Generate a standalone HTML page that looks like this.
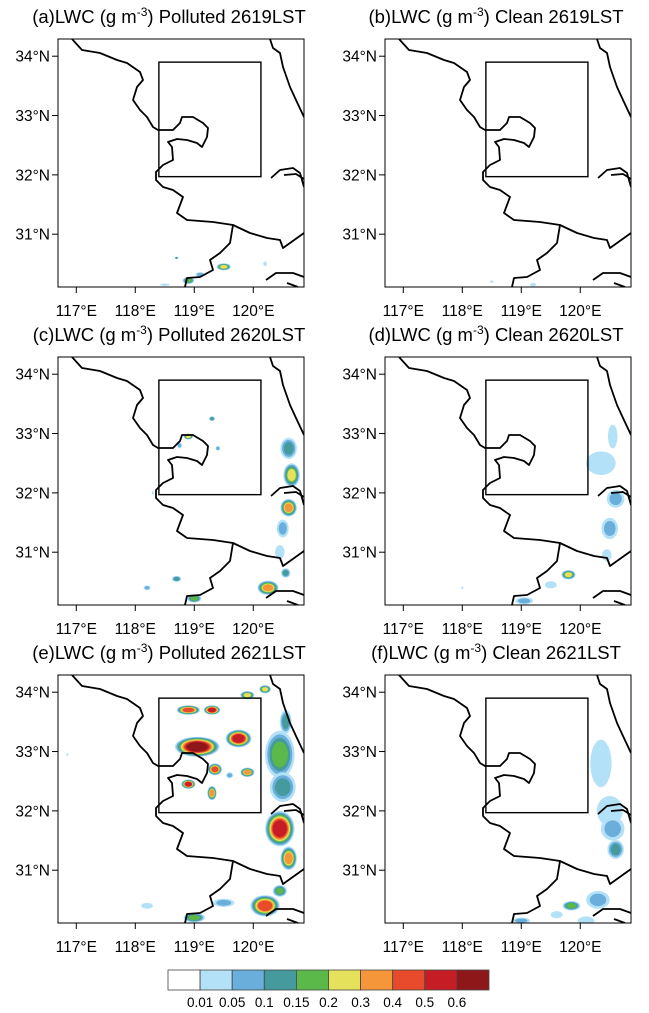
<!DOCTYPE html>
<html><head><meta charset="utf-8">
<style>
html,body{margin:0;padding:0;background:#fff;}
svg{display:block;font-family:"Liberation Sans",sans-serif;}
</style></head>
<body>
<svg id="fig" width="649" height="1013" viewBox="0 0 649 1013" xmlns="http://www.w3.org/2000/svg"></svg>
<script>
// ---- data ----
const levels = [0.01,0.05,0.1,0.15,0.2,0.3,0.4,0.5,0.6];
const colors = ["#ffffff","#b3e1f7","#6aaedb","#449a9c","#5bb94a","#e6e15a","#f6963a","#e74b2b","#c51c26","#8e1719"];
const titles = ["(a)LWC (g m","(b)LWC (g m","(c)LWC (g m","(d)LWC (g m","(e)LWC (g m","(f)LWC (g m"];
const titleTails = [") Polluted 2619LST",") Clean 2619LST",") Polluted 2620LST",") Clean 2620LST",") Polluted 2621LST",") Clean 2621LST"];
const lonTicks = [117,118,119,120];
const latTicks = [34,33,32,31];
const lonTickLabels = ["117°E","118°E","119°E","120°E"];
const latTickLabels = ["34°N","33°N","32°N","31°N"];
// blobs: [lon, lat, radius-lon, radius-lat, max colour index]
const blobsA = [[119.5,30.45,0.12,0.06,5],[118.9,30.22,0.1,0.06,4],[119.1,30.32,0.08,0.04,2],[118.7,30.6,0.03,0.02,3],[118.5,30.15,0.08,0.02,1],[120.2,30.5,0.03,0.04,1]];
const blobsB = [[119.2,30.15,0.05,0.03,1],[118.5,30.2,0.03,0.02,1]];
const blobsC = [[119.3,33.25,0.05,0.04,3],[118.9,32.95,0.08,0.05,5],[118.75,32.8,0.04,0.05,2],[119.4,32.75,0.04,0.04,2],[118.3,32.0,0.02,0.03,1],
 [120.6,32.75,0.14,0.18,3],[120.65,32.3,0.14,0.2,5],[120.6,31.75,0.14,0.15,6],[120.5,31.4,0.1,0.15,2],[120.45,31.0,0.08,0.12,1],
 [118.2,30.4,0.06,0.04,2],[118.7,30.55,0.08,0.05,3],[119.0,30.22,0.12,0.07,4],[120.25,30.4,0.18,0.12,6],[120.55,30.65,0.08,0.08,3]];
const blobsD = [[120.35,32.5,0.25,0.2,1],[120.55,32.95,0.08,0.2,1],[120.6,31.9,0.15,0.15,2],[120.5,31.4,0.14,0.18,2],[120.45,30.95,0.08,0.1,1],
 [119.8,30.62,0.12,0.08,5],[119.5,30.45,0.1,0.06,1],[119.05,30.18,0.15,0.06,2],[118.0,30.4,0.02,0.02,1]];
const blobsE = [[118.9,33.7,0.2,0.08,7],[119.3,33.7,0.14,0.08,8],[119.9,33.95,0.12,0.07,5],[120.2,34.05,0.1,0.07,5],
 [119.05,33.08,0.38,0.17,9],[119.75,33.22,0.22,0.15,8],[119.35,32.7,0.12,0.1,7],[118.9,32.45,0.12,0.08,8],[119.3,32.3,0.08,0.12,6],
 [119.9,32.65,0.12,0.08,6],[119.6,32.6,0.06,0.05,2],[120.45,32.95,0.25,0.4,4],[120.5,32.4,0.22,0.25,3],[120.55,33.5,0.1,0.2,3],
 [120.45,31.7,0.25,0.3,8],[120.6,31.2,0.14,0.2,6],[120.2,30.4,0.25,0.18,7],[120.45,30.65,0.12,0.1,4],
 [119.0,30.2,0.18,0.08,4],[119.5,30.45,0.18,0.07,2],[118.2,30.4,0.1,0.05,1],[116.85,32.95,0.02,0.02,1]];
const blobsF = [[120.35,32.8,0.18,0.4,1],[120.5,32.0,0.22,0.25,1],[120.55,31.7,0.2,0.2,2],[120.6,31.35,0.14,0.16,3],
 [120.3,30.5,0.2,0.15,2],[119.85,30.4,0.15,0.08,4],[119.6,30.25,0.1,0.06,1],[119.0,30.15,0.15,0.05,2],[120.1,30.15,0.14,0.07,1]];
const panelBlobs = [blobsA,blobsB,blobsC,blobsD,blobsE,blobsF];

// ---- geometry ----
const NS="http://www.w3.org/2000/svg";
const svg=document.getElementById('fig');
const PW=246, PH=248, LON0=116.69, LON1=120.86, LAT0=30.11, LAT1=34.29;
const panelX=[58,385], panelY=[39,357,675];
function xs(lon){return (lon-LON0)/(LON1-LON0)*PW;}
function ys(lat){return (LAT1-lat)/(LAT1-LAT0)*PH;}
function mk(tag,attrs,parent){const e=document.createElementNS(NS,tag);for(const k in attrs)e.setAttribute(k,attrs[k]);(parent||svg).appendChild(e);return e;}

const borderMain="M14,0 L24,11 L42,14 L59,21 L69,24 L82,33 L85,41 L79,48 L75,61 L82,71 L89,78 L95,88 L100,91 L115,91 L122,84 L124,78 L135,78 L145,84 L150,89 L149,98 L144,108 L139,104 L129,101 L119,100 L110,103 L114,108 L115,121 L105,126 L98,133 L98,141 L105,148 L115,151 L125,158 L119,174 L129,181 L155,183 L175,186 L172,204 L162,214 L152,221 L155,231 L142,238 L129,239 L127,248";
const borderBranch="M175,186 L192,194 L209,199 L222,201 L225,209 L232,204 L246,194";
const coast="M212,0 L215,9 L222,14 L225,28 L232,48 L238,61 L246,78";
const river="M213,139 L222,131 L235,129 L242,134 L246,148 M226,136 L238,135 L246,140";
const bottomR="M208,241 L218,234 L235,234 L246,238 M229,244 L240,248";

for(let p=0;p<6;p++){
  const col=p%2,row=Math.floor(p/2);
  const g=mk('g',{transform:`translate(${panelX[col]},${panelY[row]})`});
  
  
  const clipId='clip'+p;
  const cp=mk('clipPath',{id:clipId},g); mk('rect',{x:0,y:0,width:PW,height:PH},cp);
  const field=mk('g',{'clip-path':`url(#${clipId})`},g);
  
  
  panelBlobs[p].forEach(b=>{
    const [lon,lat,rl,rt,lv]=b;
    for(let k=1;k<=lv;k++){
      const f=Math.max(0.3,1-(k-1)*0.6/lv);
      const e=mk('ellipse',{cx:xs(lon),cy:ys(lat),rx:Math.max(1,rl*f/(LON1-LON0)*PW),ry:Math.max(1,rt*f/(LAT1-LAT0)*PH),fill:colors[k]},field);
      
      
    }
  });
  const mp=mk('g',{'clip-path':`url(#${clipId})`,fill:'none',stroke:'#000','stroke-width':1.8,'stroke-linejoin':'round'},g);
  
  
  [borderMain,borderBranch,coast,river,bottomR].forEach(d=>mk('path',{d:d},mp));
  const box=mk('rect',{x:xs(118.4),y:ys(33.9),width:xs(120.13)-xs(118.4),height:ys(31.97)-ys(33.9),fill:'none',stroke:'#000','stroke-width':1.4},g);
  
  
  const fr=mk('rect',{x:0,y:0,width:PW,height:PH,fill:'none',stroke:'#000','stroke-width':1},g);
  
  
  lonTicks.forEach((t,i)=>{
    mk('line',{x1:xs(t),x2:xs(t),y1:PH,y2:PH+6,stroke:'#000'},g);
    const tx=mk('text',{x:xs(t),y:PH+29,'font-size':15.5,'text-anchor':'middle'},g);tx.textContent=lonTickLabels[i];
    
    
  });
  latTicks.forEach((t,i)=>{
    mk('line',{x1:-6,x2:0,y1:ys(t),y2:ys(t),stroke:'#000'},g);
    const tx=mk('text',{x:-8,y:ys(t)+5.5,'font-size':15.5,'text-anchor':'end'},g);tx.textContent=latTickLabels[i];
    
    
  });
  const tt=mk('text',{x:PW/2-12,y:-16,'font-size':18.5,'text-anchor':'middle'},g);
  
  
  tt.appendChild(document.createTextNode(titles[p]));
  const sup=mk('tspan',{dy:-7,'font-size':12},tt);sup.textContent='-3';
  const tl=mk('tspan',{dy:7},tt);tl.textContent=titleTails[p];
}
// colorbar
const cb=mk('g',{transform:'translate(168,970)'});


const bw=321/colors.length;
colors.forEach((c,i)=>{
  const r=mk('rect',{x:i*bw,y:0,width:bw,height:20,fill:c,stroke:'#444','stroke-width':0.8},cb);
  
  
});
levels.forEach((l,i)=>{
  const t=mk('text',{x:(i+1)*bw,y:37,'font-size':13.5,'text-anchor':'middle'},cb);t.textContent=String(l);
  
  
});
</script>
</body></html>
